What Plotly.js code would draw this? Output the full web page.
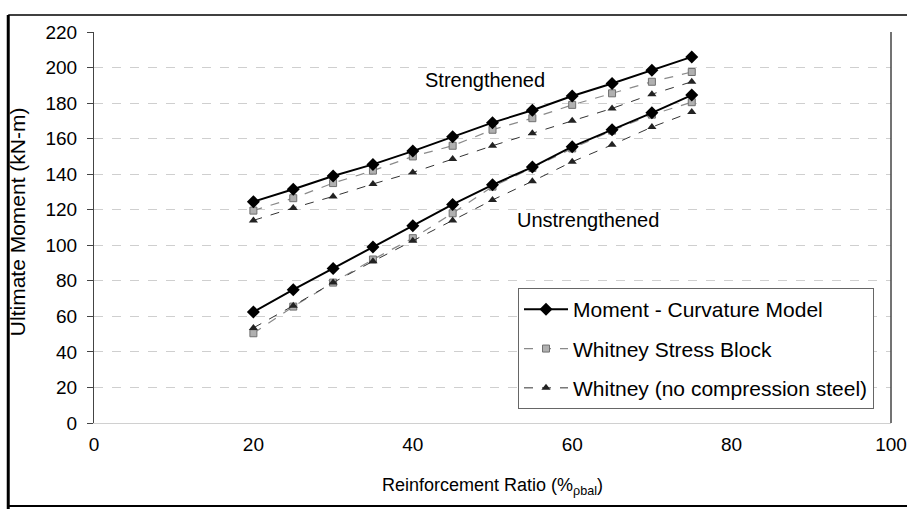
<!DOCTYPE html>
<html>
<head>
<meta charset="utf-8">
<script src="https://cdn.plot.ly/plotly-3.0.1.min.js"></script>
<style>html,body{margin:0;padding:0;background:#fff;}#chart{width:907px;height:512px;}</style>
</head>
<body>
<div id="chart"></div>
<script>
// Reinforcement ratio (% of balanced)
const ratio = [20, 25, 30, 35, 40, 45, 50, 55, 60, 65, 70, 75];

// Strengthened beams (kN-m)
const strMC  = [124.5, 131.5, 139, 145.5, 153, 161, 169, 176, 184, 191, 198.5, 206];
const strWSB = [119.5, 126.5, 135, 142, 150, 156, 165, 171.5, 179, 185.5, 192, 197.5];
const strWNC = [114, 121, 127.5, 134.5, 141, 148.5, 156, 163, 170, 177, 185, 192];

// Unstrengthened beams (kN-m)
const unMC  = [62.5, 75, 87, 99, 111, 123, 134, 144, 155.5, 165, 174.5, 184.5];
const unWSB = [50.5, 65.5, 79, 92, 104, 118, 133, 143.5, 154.5, 164.5, 173.5, 180.5];
const unWNC = [53.5, 66, 79, 91, 102.5, 114, 125.5, 136, 147, 156.5, 166.5, 175];

const seriesNames = ["Moment - Curvature Model", "Whitney Stress Block", "Whitney (no compression steel)"];
const xTicks = [0, 20, 40, 60, 80, 100];
const yTicks = [0, 20, 40, 60, 80, 100, 120, 140, 160, 180, 200, 220];
const yTitle = "Ultimate Moment (kN-m)";
const xTitle = "Reinforcement Ratio (%<sub>ρbal</sub>)";

const FONT = "Arial, 'Liberation Sans', sans-serif";

const styleMC  = {line: {color: "#000", width: 2}, marker: {symbol: "diamond", size: 10, color: "#000"}};
const styleWSB = {line: {color: "#8a8a8a", width: 1.2, dash: "dash"}, marker: {symbol: "square", size: 7, color: "#b0b0b0", line: {color: "#707070", width: 1}}};
const styleWNC = {line: {color: "#333", width: 1, dash: "dash"}, marker: {symbol: "triangle-up", size: 8, color: "#222"}};

function tr(y, name, st, group, show, rank) {
  return Object.assign({type: "scatter", mode: "lines+markers", x: ratio, y: y, name: name,
    legendgroup: group, showlegend: show, legendrank: rank}, JSON.parse(JSON.stringify(st)));
}

const data = [
  tr(strWSB, seriesNames[1], styleWSB, "wsb", true, 2),
  tr(strWNC, seriesNames[2], styleWNC, "wnc", true, 3),
  tr(unWSB, seriesNames[1], styleWSB, "wsb", false, 2),
  tr(unWNC, seriesNames[2], styleWNC, "wnc", false, 3),
  tr(strMC, seriesNames[0], styleMC, "mc", true, 1),
  tr(unMC, seriesNames[0], styleMC, "mc", false, 1)
];

const layout = {
  width: 907, height: 512,
  margin: {l: 94, r: 16, t: 32, b: 89},
  paper_bgcolor: "#fff", plot_bgcolor: "#fff",
  font: {family: FONT, size: 19, color: "#000"},
  showlegend: true,
  xaxis: {
    range: [0, 100], tickvals: xTicks, ticktext: xTicks.map(String),
    showgrid: false, zeroline: false, showline: true, linecolor: "#d0d0d0", linewidth: 1,
    ticks: "", ticklabelstandoff: 4,
    tickfont: {family: FONT, size: 19},
    title: {text: xTitle, font: {family: FONT, size: 18}, standoff: 24},
    fixedrange: true
  },
  yaxis: {
    range: [0, 220], tickvals: yTicks, ticktext: yTicks.map(String),
    showgrid: true, gridcolor: "#cfcfcf", gridwidth: 1, griddash: "dash",
    zeroline: false, showline: true, linecolor: "#444", linewidth: 1,
    ticks: "outside", ticklen: 6, tickcolor: "#444", ticklabelstandoff: 6,
    tickfont: {family: FONT, size: 19},
    title: {text: ""},
    fixedrange: true
  },
  legend: {
    x: 0.532, y: 0.345, xanchor: "left", yanchor: "top",
    bgcolor: "#fff", bordercolor: "#666", borderwidth: 1,
    font: {family: FONT, size: 21}, tracegroupgap: 9, itemwidth: 44
  },
  annotations: [
    {xref: "paper", yref: "paper", x: -0.0964, y: 0.514, text: yTitle, textangle: -90, showarrow: false,
     font: {family: FONT, size: 21}, xanchor: "center", yanchor: "middle"},
    {xref: "x", yref: "y", x: 49, y: 193, text: "Strengthened", showarrow: false, font: {family: FONT, size: 20}, xanchor: "center", yanchor: "middle"},
    {xref: "x", yref: "y", x: 62, y: 114, text: "Unstrengthened", showarrow: false, font: {family: FONT, size: 20}, xanchor: "center", yanchor: "middle"}
  ],
  shapes: [
    // plot-area right border
    {type: "line", xref: "paper", yref: "paper", x0: 1, x1: 1, y0: 0, y1: 1, line: {color: "#444", width: 1.5}},
    // outer chart frame
    {type: "line", xref: "paper", yref: "paper", x0: -0.1076, x1: -0.1076, y0: -0.22, y1: 1.0435, line: {color: "#000", width: 3}},
    {type: "line", xref: "paper", yref: "paper", x0: -0.1076, x1: 1.03, y0: 1.0435, y1: 1.0435, line: {color: "#000", width: 1.5}},
    {type: "line", xref: "paper", yref: "paper", x0: -0.1076, x1: 1.03, y0: -0.2123, y1: -0.2123, line: {color: "#000", width: 2}}
  ]
};

Plotly.newPlot("chart", data, layout, {displayModeBar: false, staticPlot: true});
</script>
</body>
</html>
